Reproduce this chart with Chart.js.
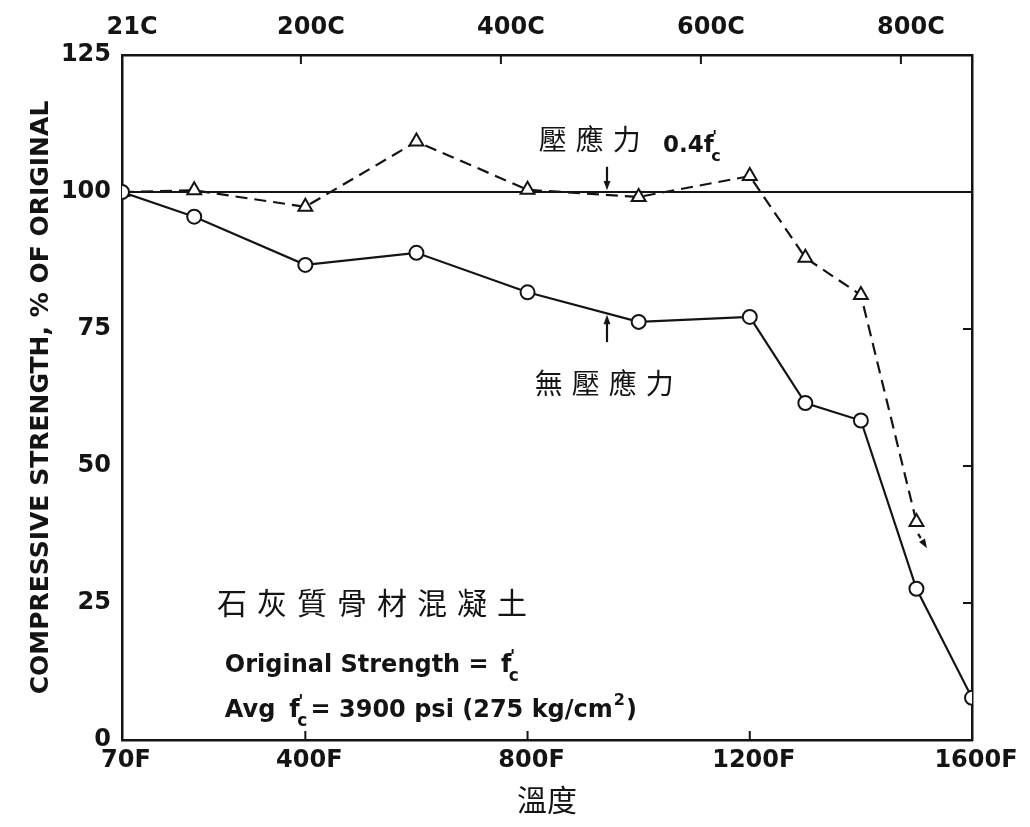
<!DOCTYPE html>
<html>
<head>
<meta charset="utf-8">
<script src="https://cdn.jsdelivr.net/npm/chart.js@4/dist/chart.umd.min.js"></script>
<style>
  html, body { margin: 0; padding: 0; background: #fff; }
  #wrap { width: 1030px; height: 827px; }
</style>
</head>
<body>
<div id="wrap"><canvas id="c" width="1030" height="827"></canvas></div>
<script>
// Temperatures (°F) and compressive strength, % of original
const temperaturesF   = [70, 200, 400, 600, 800, 1000, 1200, 1300, 1400, 1500, 1600];
const unstressed      = [100, 95.5, 86.7, 88.9, 81.7, 76.3, 77.2, 61.5, 58.3, 27.6, 7.7];
const stressedTemps   = [70, 200, 400, 600, 800, 1000, 1200, 1300, 1400, 1500];
const stressed        = [100, 100.3, 97.3, 109.2, 100.4, 99.1, 102.9, 88.0, 81.2, 39.8];
const referenceLevel  = 100;

// Axis tick labels
const bottomTicksF = [70, 400, 800, 1200, 1600];
const topTicksC    = [21, 200, 400, 600, 800];
const yTicks       = [0, 25, 50, 75, 100, 125];

const INK = '#141414';
const LATIN = '"DejaVu Sans", sans-serif';
const CJK = '"Noto Sans CJK TC", "Noto Sans CJK SC", sans-serif';

const cToF = c => Math.round(c * 9 / 5 + 32);
const pts = (xs, ys) => xs.map((x, i) => ({ x, y: ys[i] }));

// f'c written with a prime and a subscript c
function drawFc(ctx, x, baseline, size) {
  ctx.font = `bold ${size}px ${LATIN}`;
  ctx.textBaseline = 'alphabetic';
  ctx.fillText('f', x, baseline);
  const fw = ctx.measureText('f').width;
  ctx.font = `bold ${Math.round(size * 0.7)}px ${LATIN}`;
  ctx.fillText("'", x + fw * 0.85, baseline - size * 0.42);
  ctx.fillText('c', x + fw * 0.75, baseline + size * 0.38);
  return x + fw + size * 0.45;
}

function drawArrow(ctx, x1, y1, x2, y2, head, dash) {
  const a = Math.atan2(y2 - y1, x2 - x1);
  ctx.save();
  ctx.strokeStyle = INK; ctx.fillStyle = INK; ctx.lineWidth = 2.2;
  if (dash) ctx.setLineDash(dash);
  ctx.beginPath();
  ctx.moveTo(x1, y1);
  ctx.lineTo(x2 - Math.cos(a) * head * 0.6, y2 - Math.sin(a) * head * 0.6);
  ctx.stroke();
  ctx.setLineDash([]);
  ctx.beginPath();
  ctx.moveTo(x2, y2);
  ctx.lineTo(x2 - head * Math.cos(a - 0.35), y2 - head * Math.sin(a - 0.35));
  ctx.lineTo(x2 - head * Math.cos(a + 0.35), y2 - head * Math.sin(a + 0.35));
  ctx.closePath();
  ctx.fill();
  ctx.restore();
}

// Inward tick marks on the frame, and the labels / arrows inside the plot
const frameAndNotes = {
  id: 'frameAndNotes',
  afterDatasetsDraw(chart) {
    const { ctx, chartArea: ca, scales } = chart;
    const X = v => scales.x.getPixelForValue(v);
    const Y = v => scales.y.getPixelForValue(v);

    ctx.save();
    ctx.strokeStyle = INK;
    ctx.lineWidth = 2;
    ctx.beginPath();
    [400, 800, 1200].forEach(v => { ctx.moveTo(X(v), ca.bottom); ctx.lineTo(X(v), ca.bottom - 9); });
    topTicksC.slice(1).forEach(c => { const px = X(cToF(c)); ctx.moveTo(px, ca.top); ctx.lineTo(px, ca.top + 9); });
    [25, 50, 75, 100].forEach(v => { ctx.moveTo(ca.right, Y(v)); ctx.lineTo(ca.right - 9, Y(v)); });
    ctx.stroke();

    // arrows pointing at the two curves
    drawArrow(ctx, X(943), Y(104.6), X(943), Y(100.3), 10);
    drawArrow(ctx, X(943), Y(72.6), X(943), Y(77.6), 10);
    drawArrow(ctx, X(1503), Y(37.6), X(1519), Y(35.0), 10, [5, 4]);

    ctx.fillStyle = INK;
    ctx.textAlign = 'left';

    // curve labels
    ctx.font = `28px ${CJK}`;
    ctx.letterSpacing = '9px';
    ctx.textBaseline = 'middle';
    ctx.fillText('壓應力', X(820), Y(109.6));
    ctx.fillText('無壓應力', X(813), Y(65.1));
    ctx.font = `30px ${CJK}`;
    ctx.letterSpacing = '10px';
    ctx.fillText('石灰質骨材混凝土', X(241), Y(25.0));
    ctx.letterSpacing = '0px';

    ctx.textBaseline = 'alphabetic';
    ctx.font = `bold 23px ${LATIN}`;
    let bx = X(1044);
    const by1 = Y(107.3);
    ctx.fillText('0.4', bx, by1);
    bx += ctx.measureText('0.4').width;
    drawFc(ctx, bx, by1, 23);

    // specimen notes
    const FS = 24;
    const nx = X(255);
    const b1 = Y(12.4);
    ctx.font = `bold ${FS}px ${LATIN}`;
    const t1 = 'Original Strength = ';
    ctx.fillText(t1, nx, b1);
    drawFc(ctx, nx + ctx.measureText(t1).width + 4, b1, FS);

    const b2 = Y(4.2);
    ctx.font = `bold ${FS}px ${LATIN}`;
    ctx.fillText('Avg', nx, b2);
    let ax = nx + ctx.measureText('Avg').width + 14;
    ax = drawFc(ctx, ax, b2, FS);
    ctx.font = `bold ${FS}px ${LATIN}`;
    const t2 = '= 3900 psi (275 kg/cm';
    ctx.fillText(t2, ax, b2);
    ax += ctx.measureText(t2).width;
    ctx.font = `bold 16px ${LATIN}`;
    ctx.fillText('2', ax + 1, b2 - 12);
    ax += ctx.measureText('2').width + 2;
    ctx.font = `bold ${FS}px ${LATIN}`;
    ctx.fillText(')', ax, b2);
    ctx.restore();
  }
};

const tickFont = { family: LATIN, size: 24, weight: 'bold' };

new Chart(document.getElementById('c'), {
  type: 'line',
  data: {
    datasets: [
      {
        label: 'unstressed',
        data: pts(temperaturesF, unstressed),
        borderColor: INK, borderWidth: 2.2,
        pointStyle: 'circle', pointRadius: 7,
        pointBackgroundColor: '#fff', pointBorderColor: INK, pointBorderWidth: 2,
        tension: 0
      },
      {
        label: 'stressed 0.4fc',
        data: pts(stressedTemps, stressed),
        borderColor: INK, borderWidth: 2.2, borderDash: [12, 7],
        pointStyle: 'triangle', pointRadius: 8,
        pointBackgroundColor: '#fff', pointBorderColor: INK, pointBorderWidth: 2,
        tension: 0
      },
      {
        label: 'original',
        data: pts([bottomTicksF[0], bottomTicksF[bottomTicksF.length - 1]], [referenceLevel, referenceLevel]),
        borderColor: INK, borderWidth: 2.2, pointRadius: 0
      }
    ]
  },
  options: {
    responsive: false,
    animation: false,
    devicePixelRatio: 1,
    layout: { padding: { left: 0, right: 58, top: 0, bottom: 0 } },
    plugins: { legend: { display: false }, tooltip: { enabled: false } },
    scales: {
      x: {
        type: 'linear', position: 'bottom', min: 70, max: 1600,
        afterBuildTicks: s => { s.ticks = bottomTicksF.map(v => ({ value: v })); },
        afterFit: s => { s.height = 87; },
        grid: { display: false, drawTicks: false },
        border: { display: true, color: INK, width: 2.5 },
        ticks: { callback: v => v + 'F', font: tickFont, color: INK, padding: 6, maxRotation: 0, labelOffset: 4 },
        title: { display: true, text: '溫度', font: { family: CJK, size: 30 }, color: INK, padding: { top: 0, bottom: 9 } }
      },
      x2: {
        type: 'linear', position: 'top', min: 70, max: 1600,
        afterBuildTicks: s => { s.ticks = topTicksC.map(c => ({ value: cToF(c) })); },
        afterFit: s => { s.height = 55; },
        grid: { display: false, drawTicks: false },
        border: { display: true, color: INK, width: 2.5 },
        ticks: { callback: (v, i) => topTicksC[i] + 'C', font: tickFont, color: INK, padding: 13, maxRotation: 0, labelOffset: 10 }
      },
      y: {
        type: 'linear', position: 'left', min: 0, max: 125,
        afterBuildTicks: s => { s.ticks = yTicks.map(v => ({ value: v })); },
        afterFit: s => { s.width = 122; },
        grid: { display: false, drawTicks: false },
        border: { display: true, color: INK, width: 2.5 },
        ticks: { font: tickFont, color: INK, padding: 11 },
        title: { display: true, text: 'COMPRESSIVE STRENGTH, % OF ORIGINAL', font: { family: LATIN, size: 25, weight: 'bold' }, color: INK, padding: { top: 26, bottom: 0 } }
      },
      y2: {
        type: 'linear', position: 'right', min: 0, max: 125,
        afterFit: s => { s.width = 0; },
        grid: { display: false, drawTicks: false },
        border: { display: true, color: INK, width: 2.5 },
        ticks: { display: false }
      }
    }
  },
  plugins: [frameAndNotes]
});
</script>
</body>
</html>
